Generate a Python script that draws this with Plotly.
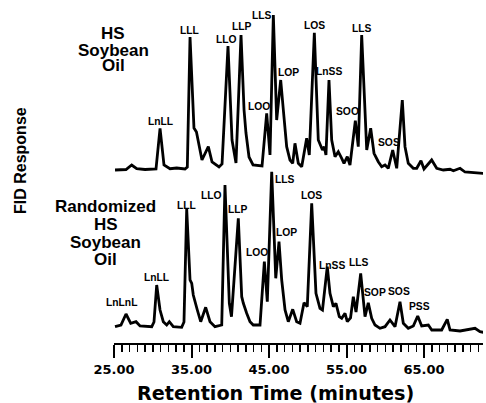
import plotly.graph_objects as go

# ---- data: retention time (min) and FID response (arbitrary units) ----
hs_time = [25.13, 26.55, 27.28, 27.93, 29.00, 30.42, 30.94, 31.45, 32.23, 33.09,
           34.16, 34.46, 34.81, 35.32, 35.64, 36.35, 37.17, 37.65, 38.55, 38.94,
           39.71, 40.23, 40.74, 41.39, 41.78, 42.03, 42.42, 42.94, 44.10, 44.70,
           45.13, 45.56, 45.99, 46.51, 46.85, 47.28, 47.71, 48.06, 48.35, 48.78,
           49.22, 49.86, 50.20, 50.85, 51.36, 51.67, 51.90, 52.13, 52.35, 52.74,
           53.09, 53.52, 53.94, 54.38, 54.68, 55.10, 55.45, 56.14, 56.52, 56.96,
           57.61, 58.12, 58.55, 59.10, 59.54, 59.97, 60.39, 60.96, 61.48, 62.20,
           62.55, 62.97, 63.62, 64.06, 64.61, 65.00, 65.99, 66.64, 67.49, 68.36,
           68.79, 69.65, 70.29, 72.65]
hs_resp = [2.0, 2.5, 7.0, 3.3, 2.5, 3.0, 43.7, 7.0, 3.3, 4.0,
           3.0, 5.0, 135.0, 44.0, 40.0, 12.0, 25.3, 10.0, 5.0, 8.0,
           126.0, 32.0, 9.0, 137.0, 62.0, 39.0, 15.0, 7.0, 6.0, 58.7,
           17.0, 157.0, 52.0, 92.0, 62.0, 25.3, 12.0, 8.7, 28.7, 8.7,
           5.3, 33.7, 17.0, 139.3, 32.0, 27.0, 22.0, 25.3, 17.0, 92.0,
           32.0, 15.3, 20.3, 13.7, 8.7, 15.3, 7.0, 51.3, 25.3, 137.0,
           22.0, 43.7, 18.7, 10.3, 5.3, 7.0, 3.7, 22.0, 3.7, 72.0,
           25.3, 8.7, 3.7, 3.7, 11.3, 3.0, 12.0, 3.7, 2.0, 2.7,
           1.3, 3.7, 0.0, -1.3]

rand_time = [25.13, 25.90, 26.55, 27.16, 27.84, 28.36, 29.87, 30.16, 30.51, 30.94,
             31.36, 31.80, 32.14, 32.65, 33.73, 34.03, 34.38, 34.81, 35.03, 35.23,
             35.75, 36.19, 36.83, 37.39, 38.03, 38.90, 39.32, 39.88, 40.16, 41.04,
             41.48, 41.69, 42.12, 42.55, 42.97, 43.84, 44.40, 44.78, 45.35, 45.87,
             46.29, 46.64, 47.07, 47.49, 48.06, 48.57, 49.00, 49.52, 49.94, 50.51,
             51.06, 51.36, 51.58, 51.90, 52.52, 52.87, 53.30, 53.64, 54.07, 54.38,
             54.81, 55.10, 55.52, 55.88, 56.23, 56.83, 57.39, 57.81, 58.25, 58.68,
             59.32, 59.97, 60.61, 61.26, 61.90, 62.33, 62.97, 63.62, 64.19, 64.70,
             65.56, 66.00, 67.28, 68.00, 68.36, 69.65, 71.58, 72.23, 72.65]
rand_resp = [5.3, 7.0, 18.0, 8.7, 10.3, 6.0, 5.3, 10.0, 47.0, 22.0,
             10.3, 7.0, 10.3, 5.3, 4.7, 10.0, 123.0, 52.0, 48.7, 37.0,
             22.0, 10.3, 24.7, 10.3, 5.3, 7.0, 147.0, 28.7, 15.3, 113.7,
             35.3, 28.7, 18.7, 10.3, 7.0, 7.0, 70.3, 30.3, 160.3, 53.7,
             90.3, 52.0, 22.0, 10.3, 22.7, 10.3, 8.7, 29.3, 25.3, 128.7,
             38.7, 28.7, 23.7, 22.0, 65.3, 38.7, 25.3, 28.7, 15.3, 13.7,
             18.7, 10.3, 14.0, 35.3, 20.0, 58.7, 15.3, 29.3, 13.7, 7.0,
             3.7, 5.3, 12.0, 5.3, 30.3, 8.7, 3.7, 6.0, 16.0, 6.0,
             7.0, 2.0, 2.0, 12.7, 2.0, 1.0, 3.7, 0.3, -0.3]

hs_offset = 171
rand_offset = 11

tick_vals = [25, 35, 45, 55, 65]

# ---- peak labels: (text, x minutes, y plot units) ----
hs_labels = [("LnLL", 30.94, 222), ("LLL", 34.72, 312.3), ("LLO", 39.54, 304),
             ("LLP", 41.55, 316.3), ("LLS", 44.14, 328), ("LOO", 43.71, 237),
             ("LOP", 47.58, 270.3), ("LOS", 50.81, 317.3), ("LnSS", 52.74, 272),
             ("SOO", 55.10, 232), ("LLS", 56.96, 314.7), ("SOS", 60.52, 200.7)]
rand_labels = [("LnLnL", 26.0, 40.3), ("LnLL", 30.42, 65.7), ("LLL", 34.29, 138),
               ("LLO", 37.6, 147.3), ("LLP", 41.04, 134), ("LOO", 43.49, 90.3),
               ("LLS", 47.06, 163.7), ("LOP", 47.29, 110.7), ("LOS", 50.42, 148),
               ("LnSS", 53.09, 78), ("LLS", 56.65, 80.3), ("SOP", 58.68, 51),
               ("SOS", 61.81, 52), ("PSS", 64.39, 37)]

W, H = 486, 403
ML, MR, MT, MB = 114, 3, 0, 60
PW, PH = W - ML - MR, H - MT - MB

def px_x(px):
    return (px - ML) / PW

def px_y(py):
    return (H - MB - py) / PH

fig = go.Figure()
fig.add_trace(go.Scatter(x=hs_time, y=[v + hs_offset for v in hs_resp], mode="lines",
                         line=dict(color="black", width=2.8), hoverinfo="skip"))
fig.add_trace(go.Scatter(x=rand_time, y=[v + rand_offset for v in rand_resp], mode="lines",
                         line=dict(color="black", width=2.8), hoverinfo="skip"))

lab_font = dict(family="Liberation Sans, Arial", size=10.3, color="black", weight="bold")
anns = []
for txt, x, y in hs_labels + rand_labels:
    anns.append(dict(text=txt, x=x, y=y, xref="x", yref="y", showarrow=False,
                     font=lab_font, xanchor="center", yanchor="middle"))

big_font = dict(family="Liberation Sans, Arial", size=17, color="black", weight="bold")
for txt, px, py in [("HS", 113.3, 33.7), ("Soybean", 113.3, 50), ("Oil", 113, 65.7),
                    ("Randomized", 105.7, 206.7), ("HS", 105.7, 224.7),
                    ("Soybean", 105.7, 242.2), ("Oil", 105.7, 259.5)]:
    anns.append(dict(text=txt, x=px_x(px), y=px_y(py), xref="paper", yref="paper",
                     showarrow=False, font=big_font, xanchor="center", yanchor="middle"))

anns.append(dict(text="FID Response", x=px_x(20), y=px_y(161), xref="paper", yref="paper",
                 showarrow=False, textangle=-90, xanchor="center", yanchor="middle",
                 font=dict(family="Liberation Sans, Arial", size=16, color="black", weight="bold")))
anns.append(dict(text="Retention Time (minutes)", x=px_x(275.7), y=px_y(393.5), xref="paper",
                 yref="paper", showarrow=False, xanchor="center", yanchor="middle",
                 font=dict(family="DejaVu Sans", size=19.2, color="black", weight="bold")))

fig.update_layout(
    width=W, height=H, margin=dict(l=ML, r=MR, t=MT, b=MB),
    paper_bgcolor="white", plot_bgcolor="white", showlegend=False,
    annotations=anns,
    xaxis=dict(range=[25, 25 + PW / 7.75], showgrid=False, zeroline=False,
               showline=True, linecolor="black", linewidth=2,
               ticks="outside", tickvals=tick_vals, ticklen=13, tickwidth=2,
               tickcolor="black", tickformat=".2f",
               tickfont=dict(family="DejaVu Sans", size=13, color="black", weight="bold"),
               minor=dict(dtick=1, ticks="outside", ticklen=7, tickwidth=1.5,
                          tickcolor="black", showgrid=False)),
    yaxis=dict(range=[0, PH], visible=False, showgrid=False, zeroline=False),
)

fig.write_html("out.html", config={"displayModeBar": False, "staticPlot": True},
               post_script="document.body.style.margin='0px';document.body.style.padding='0px';")
